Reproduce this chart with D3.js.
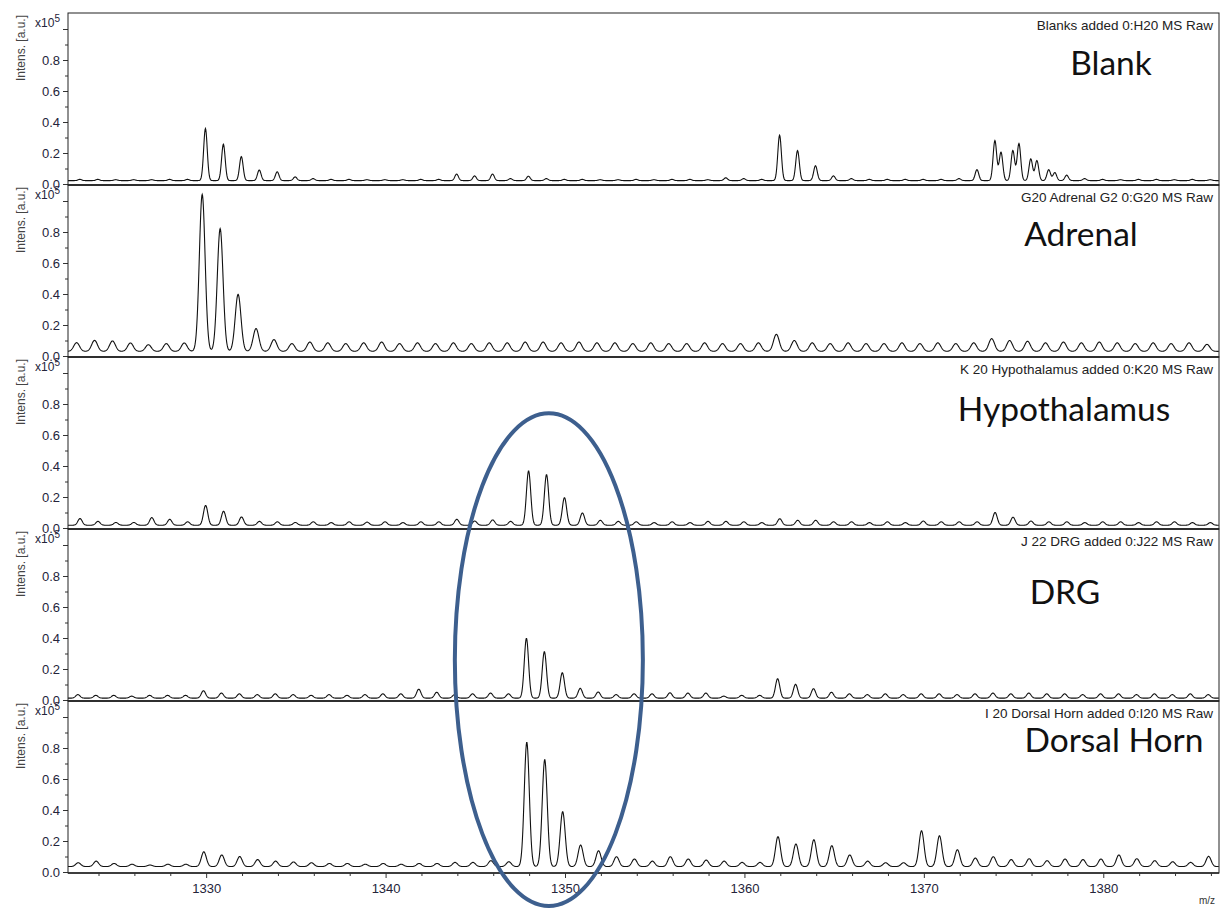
<!DOCTYPE html>
<html>
<head>
<meta charset="utf-8">
<script src="https://cdn.jsdelivr.net/npm/d3@7"></script>
<style>
  body { margin: 0; background: #fff; }
  svg { display: block; }
  .tick text { font-family: "Liberation Sans", Arial, sans-serif; }
</style>
</head>
<body>
<svg id="chart" width="1221" height="909"></svg>
<script>
// nominal isotope grid (m/z), one entry per heights value below
var nominalMz = d3.range(1323, 1387);

// peak top intensities (x10^5) per nominal mass
var blankHeights = [
  0.030, 0.030, 0.028, 0.028, 0.028, 0.030, 0.030, 0.358, 0.256, 0.177,
  0.090, 0.079, 0.046, 0.035, 0.030, 0.030, 0.028, 0.028, 0.028, 0.030,
  0.030, 0.064, 0.052, 0.064, 0.035, 0.050, 0.035, 0.030, 0.030, 0.028,
  0.028, 0.030, 0.028, 0.030, 0.030, 0.028, 0.040, 0.035, 0.030, 0.315,
  0.216, 0.118, 0.052, 0.035, 0.030, 0.030, 0.030, 0.030, 0.030, 0.035,
  0.092, 0.280, 0.216, 0.162, 0.092, 0.057, 0.035, 0.030, 0.028, 0.030,
  0.030, 0.028, 0.030, 0.028
];
// split peaks in the blank cluster near 1374-1377
var blankShoulders = [[1374.3, 0.205], [1375.3, 0.261], [1376.3, 0.151], [1377.3, 0.074]];

var adrenalHeights = [
  0.086, 0.101, 0.097, 0.084, 0.073, 0.080, 0.084, 1.043, 0.822, 0.398,
  0.177, 0.106, 0.080, 0.090, 0.085, 0.080, 0.085, 0.090, 0.080, 0.085,
  0.080, 0.085, 0.080, 0.085, 0.085, 0.090, 0.090, 0.085, 0.090, 0.085,
  0.085, 0.080, 0.085, 0.080, 0.080, 0.085, 0.080, 0.080, 0.085, 0.140,
  0.100, 0.085, 0.080, 0.085, 0.080, 0.080, 0.085, 0.080, 0.085, 0.080,
  0.085, 0.112, 0.100, 0.095, 0.085, 0.090, 0.085, 0.090, 0.085, 0.080,
  0.085, 0.080, 0.085, 0.075
];

var hypothalamusHeights = [
  0.061, 0.043, 0.036, 0.036, 0.067, 0.056, 0.040, 0.146, 0.108, 0.071,
  0.043, 0.040, 0.036, 0.040, 0.035, 0.040, 0.038, 0.040, 0.035, 0.040,
  0.040, 0.056, 0.045, 0.052, 0.043, 0.368, 0.345, 0.196, 0.097, 0.050,
  0.043, 0.040, 0.035, 0.040, 0.035, 0.043, 0.043, 0.040, 0.035, 0.060,
  0.050, 0.050, 0.040, 0.040, 0.035, 0.040, 0.035, 0.045, 0.040, 0.040,
  0.040, 0.100, 0.070, 0.045, 0.040, 0.040, 0.035, 0.040, 0.040, 0.035,
  0.040, 0.040, 0.035, 0.035
];

var drgHeights = [
  0.035, 0.030, 0.030, 0.025, 0.030, 0.030, 0.030, 0.060, 0.045, 0.040,
  0.035, 0.040, 0.035, 0.030, 0.035, 0.030, 0.035, 0.040, 0.040, 0.070,
  0.050, 0.035, 0.040, 0.045, 0.040, 0.398, 0.312, 0.176, 0.075, 0.052,
  0.035, 0.040, 0.040, 0.047, 0.045, 0.045, 0.025, 0.030, 0.030, 0.137,
  0.101, 0.073, 0.050, 0.040, 0.035, 0.040, 0.035, 0.040, 0.040, 0.035,
  0.040, 0.045, 0.040, 0.045, 0.040, 0.040, 0.035, 0.040, 0.040, 0.035,
  0.040, 0.035, 0.040, 0.035
];

var dorsalHornHeights = [
  0.060, 0.070, 0.055, 0.050, 0.045, 0.050, 0.050, 0.130, 0.110, 0.100,
  0.080, 0.070, 0.065, 0.060, 0.055, 0.055, 0.050, 0.055, 0.050, 0.055,
  0.055, 0.062, 0.062, 0.073, 0.066, 0.837, 0.725, 0.389, 0.174, 0.137,
  0.099, 0.084, 0.070, 0.099, 0.084, 0.077, 0.070, 0.062, 0.062, 0.228,
  0.181, 0.208, 0.170, 0.110, 0.070, 0.060, 0.060, 0.266, 0.234, 0.144,
  0.090, 0.099, 0.080, 0.086, 0.073, 0.084, 0.080, 0.084, 0.110, 0.086,
  0.073, 0.066, 0.062, 0.101
];

var sampleNames = ["Blank", "Adrenal", "Hypothalamus", "DRG", "Dorsal Horn"];
var runLabels = [
  "Blanks added 0:H20 MS Raw",
  "G20 Adrenal G2 0:G20 MS Raw",
  "K 20 Hypothalamus added 0:K20 MS Raw",
  "J 22 DRG added 0:J22 MS Raw",
  "I 20 Dorsal Horn added 0:I20 MS Raw"
];
var massOffsets = [-0.04, -0.22, -0.03, -0.15, -0.13];   // calibration shift of each run
var baselines = [0.022, 0.030, 0.018, 0.012, 0.035];
var peakSigma = [0.10, 0.16, 0.12, 0.12, 0.14];          // peak width in m/z
var allHeights = [blankHeights, adrenalHeights, hypothalamusHeights, drgHeights, dorsalHornHeights];
var allExtra = [blankShoulders, [], [], [], []];

var mzDomain = [1322.3, 1386.45];
var majorMz = [1330, 1340, 1350, 1360, 1370, 1380];
var minorMz = [1324, 1326, 1328, 1332, 1334, 1336, 1338, 1342, 1344, 1346, 1348,
               1352, 1354, 1356, 1358, 1362, 1364, 1366, 1368, 1372, 1374, 1376,
               1378, 1382, 1384, 1386];
var majorIntens = [0, 0.2, 0.4, 0.6, 0.8, 1.0];
var minorIntens = [0.1, 0.3, 0.5, 0.7, 0.9];

// highlighted region: centre m/z, half width (m/z), top intensity in Hypothalamus panel
var highlightMz = 1349.1, highlightHalf = 5.24, highlightTop = 0.74;

// ---- layout ----
var left = 68, right = 1219, top0 = 13, panelH = 172;
var bigLabel = [
  { x: 1111, dy: 62 }, { x: 1081, dy: 61 }, { x: 1064, dy: 64 },
  { x: 1065, dy: 75 }, { x: 1114, dy: 51 }
];

var svg = d3.select("#chart");
var x = d3.scaleLinear().domain(mzDomain).range([left, right]);

svg.append("defs").append("clipPath").attr("id", "plotclip")
  .append("rect").attr("x", left).attr("y", 0).attr("width", right - left).attr("height", 909);

function spectrum(heights, offset, base, sigma, extra) {
  var peaks = heights.map(function (h, i) { return { mz: nominalMz[i] + offset, h: h }; });
  extra.forEach(function (p) { peaks.push({ mz: p[0], h: p[1] }); });
  var pts = [];
  for (var m = mzDomain[0]; m <= mzDomain[1]; m += 0.02) {
    var v = base;
    for (var k = 0; k < peaks.length; k++) {
      var d = m - peaks[k].mz;
      if (Math.abs(d) < 1.2) v += (peaks[k].h - base) * Math.exp(-0.5 * d * d / (sigma * sigma));
    }
    pts.push([m, v]);
  }
  return pts;
}

var yScales = [];
sampleNames.forEach(function (name, i) {
  var top = top0 + i * panelH, bottom = top + panelH;
  var y = d3.scaleLinear().domain([0, 1.1]).range([bottom - 1, top + 0.5]);
  yScales.push(y);
  var g = svg.append("g");

  // trace
  var line = d3.line().x(function (d) { return x(d[0]); }).y(function (d) { return y(d[1]); });
  g.append("path")
    .datum(spectrum(allHeights[i], massOffsets[i], baselines[i], peakSigma[i], allExtra[i]))
    .attr("clip-path", "url(#plotclip)")
    .attr("d", line)
    .attr("fill", "none")
    .attr("stroke", "#111")
    .attr("stroke-width", 1.1);

  // y axis
  var ax = g.append("g").attr("transform", "translate(" + left + ",0)")
    .call(d3.axisLeft(y).tickValues(majorIntens).tickSize(5).tickPadding(3)
      .tickFormat(function (d) { return d === 1 ? "" : d3.format(".1f")(d); }));
  ax.select(".domain").remove();
  ax.selectAll("text").attr("font-size", 13).attr("fill", "#24243a");
  ax.selectAll("line").attr("stroke", "#333");
  var axm = g.append("g").attr("transform", "translate(" + left + ",0)")
    .call(d3.axisLeft(y).tickValues(minorIntens).tickSize(3).tickFormat(""));
  axm.select(".domain").remove();
  axm.selectAll("line").attr("stroke", "#333");

  // exponent
  var ex = g.append("text").attr("x", 60).attr("y", y(1.0) - 2)
    .attr("text-anchor", "end")
    .attr("font-family", "Liberation Sans, Arial, sans-serif")
    .attr("font-size", 12).attr("fill", "#24243a");
  ex.append("tspan").text("x10");
  ex.append("tspan").attr("dy", -5).attr("font-size", 10).text("5");

  // y title
  g.append("text")
    .attr("transform", "translate(25," + (top + 2) + ") rotate(-90)")
    .attr("text-anchor", "end")
    .attr("font-family", "Liberation Sans, Arial, sans-serif")
    .attr("font-size", 12).attr("fill", "#444")
    .text("Intens. [a.u.]");

  // frame
  g.append("rect").attr("x", left).attr("y", top).attr("width", right - left).attr("height", panelH)
    .attr("fill", "none").attr("stroke", "#222").attr("stroke-width", 1);
  g.append("line").attr("x1", left).attr("x2", right).attr("y1", bottom).attr("y2", bottom)
    .attr("stroke", "#222").attr("stroke-width", 1.6);

  // run label
  g.append("text").attr("x", right - 6).attr("y", top + 17)
    .attr("text-anchor", "end")
    .attr("font-family", "Liberation Sans, Arial, sans-serif")
    .attr("font-size", 13.5).attr("fill", "#222")
    .text(runLabels[i]);

  // sample name
  g.append("text").attr("x", bigLabel[i].x).attr("y", top + bigLabel[i].dy)
    .attr("text-anchor", "middle")
    .attr("font-family", "Lato, 'Open Sans', sans-serif")
    .attr("font-size", 33.5).attr("fill", "#111")
    .text(name);
});

// x axis
var axisY = top0 + 5 * panelH;
var xa = svg.append("g").attr("transform", "translate(0," + axisY + ")")
  .call(d3.axisBottom(x).tickValues(majorMz).tickSize(5).tickPadding(6).tickFormat(d3.format("d")));
xa.select(".domain").remove();
xa.selectAll("text").attr("font-size", 13).attr("fill", "#24243a");
xa.selectAll("line").attr("stroke", "#333");
var xm = svg.append("g").attr("transform", "translate(0," + axisY + ")")
  .call(d3.axisBottom(x).tickValues(minorMz).tickSize(3).tickFormat(""));
xm.select(".domain").remove();
xm.selectAll("line").attr("stroke", "#333");

svg.append("text").attr("x", right - 4).attr("y", axisY + 31)
  .attr("text-anchor", "end")
  .attr("font-family", "Liberation Sans, Arial, sans-serif")
  .attr("font-size", 10).attr("fill", "#333")
  .text("m/z");

// highlight ellipse
var eTop = yScales[2](highlightTop), eBottom = axisY + 33;
svg.append("ellipse")
  .attr("cx", x(highlightMz))
  .attr("cy", (eTop + eBottom) / 2)
  .attr("rx", x(highlightMz + highlightHalf) - x(highlightMz))
  .attr("ry", (eBottom - eTop) / 2)
  .attr("fill", "none")
  .attr("stroke", "#3d5f8e")
  .attr("stroke-width", 4);
</script>
</body>
</html>
